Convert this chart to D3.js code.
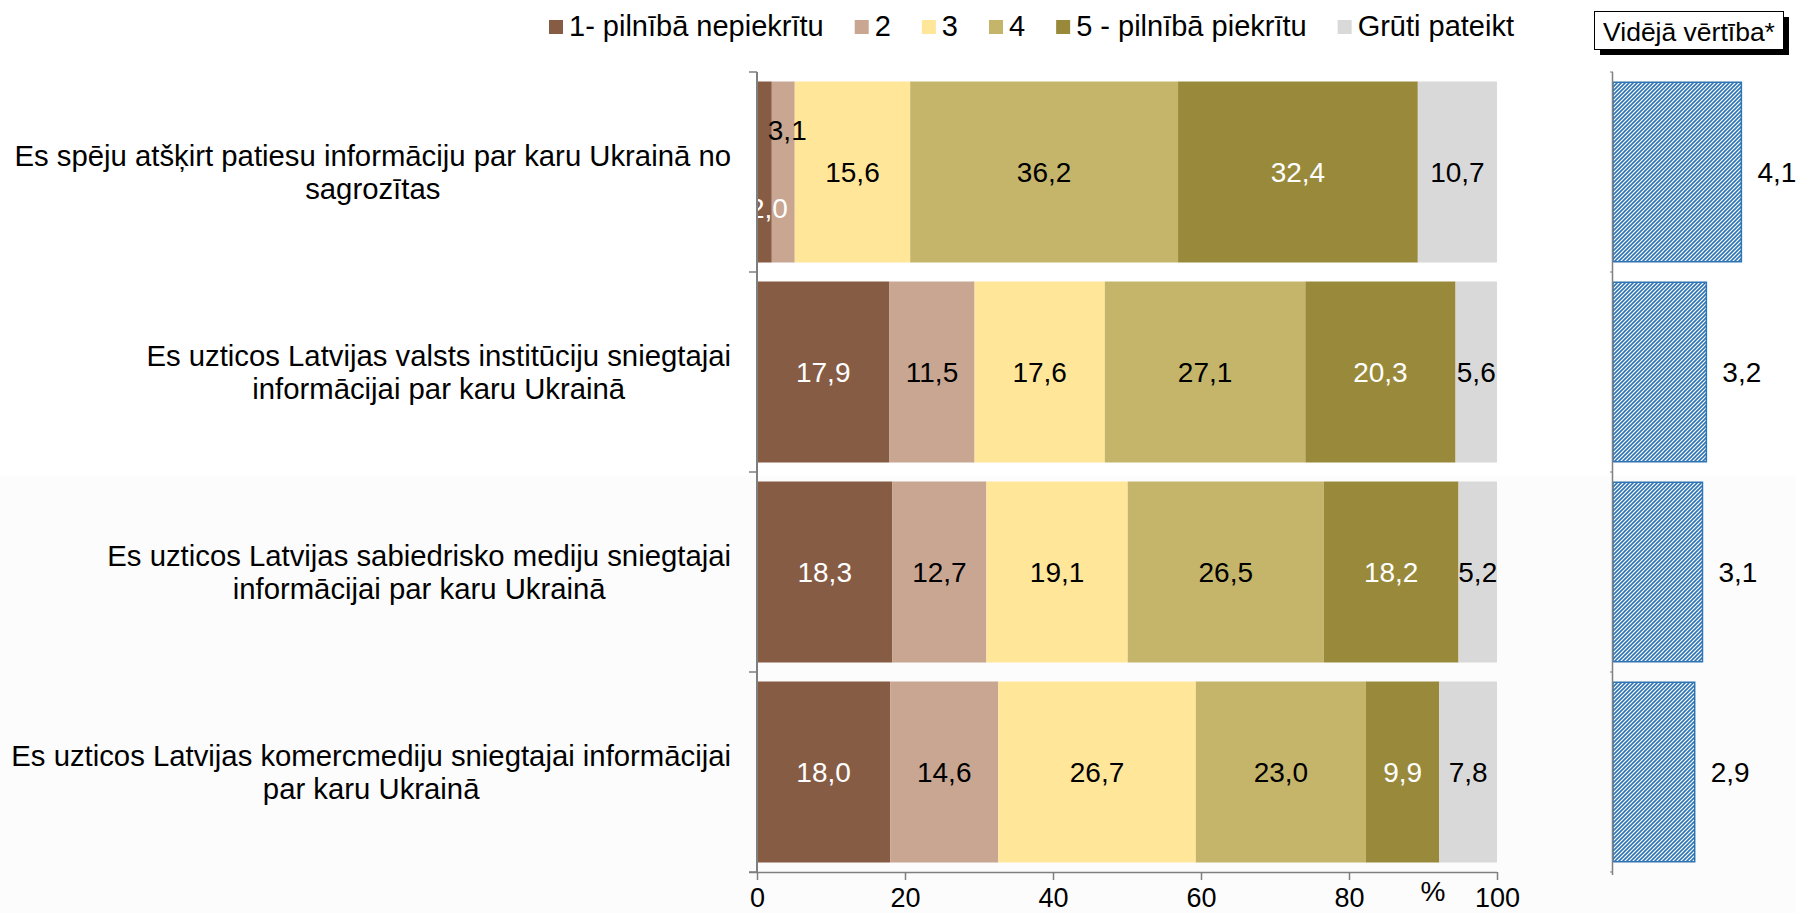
<!DOCTYPE html>
<html>
<head>
<meta charset="utf-8">
<script src="https://cdnjs.cloudflare.com/ajax/libs/d3/7.8.5/d3.min.js"></script>
<style>
  html, body { margin: 0; padding: 0; background: #fff; }
  svg { display: block; font-family: "Liberation Sans", Arial, sans-serif; }
</style>
</head>
<body>
<svg id="chart" width="1796" height="913"></svg>
<script>
// data
var categories = [
    "Es spēju atšķirt patiesu informāciju par karu Ukrainā no\nsagrozītas",
    "Es uzticos Latvijas valsts institūciju sniegtajai\ninformācijai par karu Ukrainā",
    "Es uzticos Latvijas sabiedrisko mediju sniegtajai\ninformācijai par karu Ukrainā",
    "Es uzticos Latvijas komercmediju sniegtajai informācijai\npar karu Ukrainā"
];
var seriesNames = ["1- pilnībā nepiekrītu", "2", "3", "4", "5 - pilnībā piekrītu", "Grūti pateikt"];
var s1 = [2.0, 17.9, 18.3, 18.0];
var s2 = [3.1, 11.5, 12.7, 14.6];
var s3 = [15.6, 17.6, 19.1, 26.7];
var s4 = [36.2, 27.1, 26.5, 23.0];
var s5 = [32.4, 20.3, 18.2, 9.9];
var sHard = [10.7, 5.6, 5.2, 7.8];
var averages = [4.1, 3.2, 3.1, 2.9];
var xTicks = [0, 20, 40, 60, 80, 100];

var colors = ["#875c45", "#c8a691", "#ffe699", "#c4b56b", "#998a3b", "#d9d9d9"];
var whiteText = [true, false, false, false, true, false];
var hatchBlue = "#2e75b6";

var svg = d3.select("#chart");
var allSeries = [s1, s2, s3, s4, s5, sHard];

var x = d3.scaleLinear().domain([0, 100]).range([757, 1497]);
var y = d3.scaleBand().domain(d3.range(categories.length)).range([72, 872])
    .paddingInner(0.095).paddingOuter(0.0475);
var xAvg = d3.scaleLinear().domain([0.8, 5]).range([1613, 1776.4]);

// hatch pattern for the average bars
var defs = svg.append("defs");
var pat = defs.append("pattern")
    .attr("id", "hatch")
    .attr("patternUnits", "userSpaceOnUse")
    .attr("width", 4).attr("height", 4);
pat.append("rect").attr("width", 4).attr("height", 4).attr("fill", "#fff");
pat.append("path")
    .attr("d", "M-1,1 l2,-2 M0,4 l4,-4 M3,5 l2,-2")
    .attr("stroke", hatchBlue).attr("stroke-width", 1.6);

// faint grey of the lower half of the original
svg.append("rect").attr("x", 0).attr("y", 476).attr("width", 1796).attr("height", 437).attr("fill", "#fcfcfc");

// stack rows
var rows = categories.map(function(c, i) {
    var start = 0;
    return allSeries.map(function(s, k) {
        var seg = { row: i, k: k, v: s[i], x0: start, x1: start + s[i] };
        start += s[i];
        return seg;
    });
});

var segs = svg.append("g").selectAll("g.row")
    .data(rows).enter().append("g").attr("class", "row");

segs.selectAll("rect")
    .data(function(d) { return d; })
    .enter().append("rect")
    .attr("x", function(d) { return x(d.x0); })
    .attr("y", function(d) { return y(d.row); })
    .attr("width", function(d) { return x(d.x1) - x(d.x0); })
    .attr("height", y.bandwidth())
    .attr("fill", function(d) { return colors[d.k]; });

// labels; narrow segments are pushed down / up so they don't overlap
segs.each(function(row) {
    var narrow = 0;
    d3.select(this).selectAll("text")
        .data(row).enter().append("text")
        .attr("x", function(d) {
            var w = x(d.x1) - x(d.x0);
            return x((d.x0 + d.x1) / 2) + (w < 30 ? 4 : 0);
        })
        .attr("y", function(d) {
            var cy = y(d.row) + y.bandwidth() / 2;
            if (x(d.x1) - x(d.x0) < 30) {
                narrow++;
                return cy + (narrow % 2 ? 36 : -42);
            }
            return cy;
        })
        .attr("dy", "0.36em")
        .attr("text-anchor", "middle")
        .attr("font-size", 28)
        .attr("fill", function(d) { return whiteText[d.k] ? "#fff" : "#000"; })
        .text(function(d) { return d3.format(".1f")(d.v).replace(".", ","); });
});

// category labels: block right-aligned, lines centred in it
var catG = svg.append("g");
categories.forEach(function(c, i) {
    var lines = c.split("\n");
    var t = catG.append("text").attr("font-size", 29.3).attr("text-anchor", "middle");
    var spans = lines.map(function(l) { return t.append("tspan").text(l); });
    var maxW = d3.max(spans, function(s) { return s.node().getComputedTextLength(); });
    var cx = 731 - maxW / 2;
    var cy = y(i) + y.bandwidth() / 2;
    var lh = 33;
    spans.forEach(function(s, j) {
        s.attr("x", cx).attr("y", cy + (j - (lines.length - 1) / 2) * lh).attr("dy", "0.36em");
    });
});

// axes
var axisColor = "#7f7f7f";
var xAxis = svg.append("g").attr("transform", "translate(0,872)")
    .call(d3.axisBottom(x).tickValues(xTicks).tickSize(8).tickPadding(13).tickSizeOuter(0));
xAxis.select(".domain").attr("stroke", axisColor).attr("stroke-width", 1.5)
    .attr("d", "M" + (x(0) - 8) + ",0.5H" + x(100));
xAxis.selectAll(".tick line").attr("stroke", axisColor).attr("stroke-width", 1.5);
xAxis.selectAll(".tick text").attr("font-size", 27).attr("fill", "#000")
    .attr("y", 35).attr("dy", 0)
    .attr("font-family", "Liberation Sans, Arial, sans-serif");

svg.append("text").attr("x", 1433).attr("y", 891).attr("dy", "0.36em")
    .attr("text-anchor", "middle").attr("font-size", 28).text("%");

var bounds = d3.range(categories.length + 1).map(function(i) {
    return i < categories.length ? y(i) - y.step() * y.paddingInner() / 2 : 872;
});

var yAxis = svg.append("g");
yAxis.append("line").attr("x1", x(0)).attr("x2", x(0)).attr("y1", 72).attr("y2", 872)
    .attr("stroke", axisColor).attr("stroke-width", 2);
yAxis.selectAll("line.tk").data(bounds).enter().append("line").attr("class", "tk")
    .attr("x1", x(0) - 8).attr("x2", x(0))
    .attr("y1", function(d) { return d; }).attr("y2", function(d) { return d; })
    .attr("stroke", axisColor).attr("stroke-width", 1.5);

// legend
var leg = svg.append("g").attr("font-size", 29);
var lx = 549;
seriesNames.forEach(function(n, k) {
    leg.append("rect").attr("x", lx).attr("y", 20).attr("width", 14).attr("height", 14)
        .attr("fill", colors[k]);
    var t = leg.append("text").attr("x", lx + 20).attr("y", 26).attr("dy", "0.36em").text(n);
    lx += 20 + t.node().getComputedTextLength() + 31;
});

// average panel
svg.append("rect").attr("x", 1600).attr("y", 17).attr("width", 189).attr("height", 38).attr("fill", "#000");
svg.append("rect").attr("x", 1594.5).attr("y", 11.5).attr("width", 189).attr("height", 38)
    .attr("fill", "#fff").attr("stroke", "#000").attr("stroke-width", 1);
svg.append("text").attr("x", 1689).attr("y", 31).attr("dy", "0.36em")
    .attr("text-anchor", "middle").attr("font-size", 26.5).text("Vidējā vērtība*");

svg.append("g").selectAll("rect").data(averages).enter().append("rect")
    .attr("x", xAvg(0.8))
    .attr("y", function(d, i) { return y(i) + 0.75; })
    .attr("width", function(d) { return xAvg(d) - xAvg(0.8); })
    .attr("height", y.bandwidth() - 1.5)
    .attr("fill", "url(#hatch)")
    .attr("stroke", hatchBlue).attr("stroke-width", 1.5);

svg.append("g").selectAll("text").data(averages).enter().append("text")
    .attr("x", function(d) { return xAvg(d) + 16; })
    .attr("y", function(d, i) { return y(i) + y.bandwidth() / 2; })
    .attr("dy", "0.36em").attr("font-size", 28)
    .text(function(d) { return d3.format(".1f")(d).replace(".", ","); });

var avgAxis = svg.append("g");
avgAxis.append("line").attr("x1", 1612.5).attr("x2", 1612.5).attr("y1", 72).attr("y2", 875)
    .attr("stroke", axisColor).attr("stroke-width", 1.5);
avgAxis.selectAll("line.tk").data(bounds).enter().append("line").attr("class", "tk")
    .attr("x1", 1610).attr("x2", 1613)
    .attr("y1", function(d) { return d; }).attr("y2", function(d) { return d; })
    .attr("stroke", axisColor).attr("stroke-width", 1);
</script>
</body>
</html>
